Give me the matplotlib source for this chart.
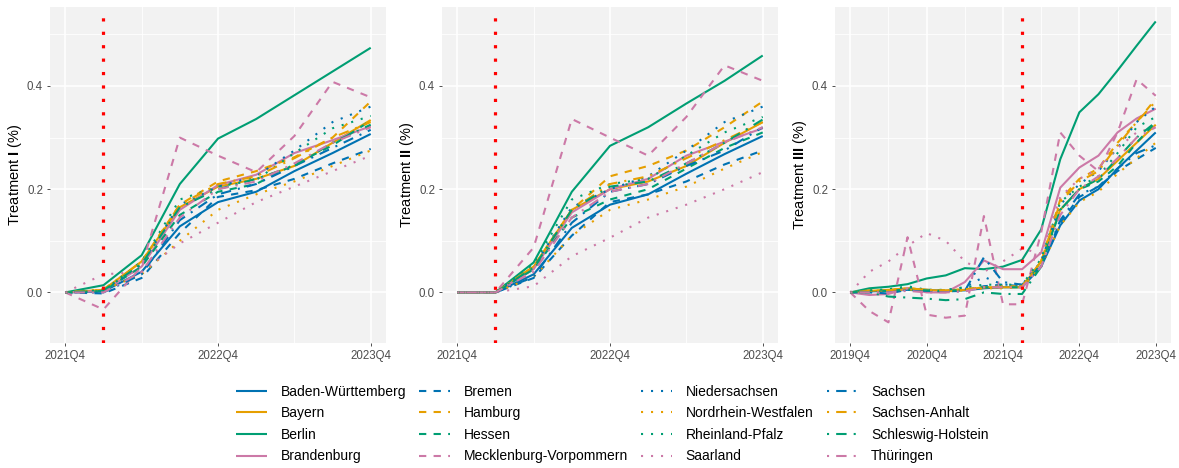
import matplotlib
matplotlib.use("Agg")
import matplotlib.pyplot as plt
from matplotlib.lines import Line2D
import numpy as np

plt.rcParams['font.family'] = ['Liberation Sans', 'DejaVu Sans']
plt.rcParams['mathtext.fontset'] = 'custom'
plt.rcParams['mathtext.rm'] = 'Liberation Sans'
plt.rcParams['mathtext.bf'] = 'Liberation Sans:bold'

states = ["Baden-Württemberg", "Bayern", "Berlin", "Brandenburg",
          "Bremen", "Hamburg", "Hessen", "Mecklenburg-Vorpommern",
          "Niedersachsen", "Nordrhein-Westfalen", "Rheinland-Pfalz", "Saarland",
          "Sachsen", "Sachsen-Anhalt", "Schleswig-Holstein", "Thüringen"]

quarters_short = ["2021Q4", "2022Q1", "2022Q2", "2022Q3", "2022Q4",
                  "2023Q1", "2023Q2", "2023Q3", "2023Q4"]
quarters_long = ["2019Q4", "2020Q1", "2020Q2", "2020Q3", "2020Q4",
                 "2021Q1", "2021Q2", "2021Q3", "2021Q4",
                 "2022Q1", "2022Q2", "2022Q3", "2022Q4",
                 "2023Q1", "2023Q2", "2023Q3", "2023Q4"]
treatment_start = "2022Q1"

treat1 = [
    [0, 0.002, 0.040, 0.128, 0.175, 0.195, 0.235, 0.270, 0.307],
    [0, 0.005, 0.060, 0.165, 0.205, 0.220, 0.245, 0.290, 0.334],
    [0, 0.014, 0.072, 0.210, 0.298, 0.336, 0.382, 0.428, 0.474],
    [0, 0.003, 0.050, 0.160, 0.208, 0.228, 0.270, 0.295, 0.322],
    [0, -0.002, 0.028, 0.115, 0.185, 0.198, 0.220, 0.250, 0.278],
    [0, 0.004, 0.060, 0.170, 0.215, 0.235, 0.262, 0.300, 0.370],
    [0, 0.003, 0.050, 0.150, 0.195, 0.210, 0.248, 0.285, 0.333],
    [0, -0.033, 0.050, 0.300, 0.265, 0.233, 0.303, 0.408, 0.378],
    [0, 0.002, 0.055, 0.170, 0.205, 0.225, 0.275, 0.330, 0.360],
    [0, 0.005, 0.035, 0.100, 0.160, 0.190, 0.215, 0.245, 0.275],
    [0, 0.003, 0.060, 0.180, 0.205, 0.218, 0.270, 0.318, 0.342],
    [0, 0.035, 0.040, 0.095, 0.135, 0.175, 0.205, 0.235, 0.265],
    [0, 0.000, 0.035, 0.140, 0.190, 0.210, 0.245, 0.280, 0.315],
    [0, 0.006, 0.058, 0.170, 0.210, 0.225, 0.260, 0.300, 0.330],
    [0, 0.004, 0.055, 0.165, 0.200, 0.220, 0.245, 0.290, 0.325],
    [0, 0.000, 0.040, 0.145, 0.200, 0.215, 0.250, 0.290, 0.320],
]

treat2 = [
    [0, 0, 0.035, 0.125, 0.170, 0.190, 0.230, 0.268, 0.303],
    [0, 0, 0.050, 0.160, 0.200, 0.215, 0.245, 0.290, 0.330],
    [0, 0, 0.058, 0.195, 0.284, 0.320, 0.366, 0.410, 0.459],
    [0, 0, 0.045, 0.155, 0.200, 0.220, 0.265, 0.292, 0.318],
    [0, 0, 0.028, 0.110, 0.175, 0.190, 0.215, 0.248, 0.275],
    [0, 0, 0.050, 0.160, 0.225, 0.245, 0.275, 0.320, 0.370],
    [0, 0, 0.045, 0.145, 0.180, 0.200, 0.240, 0.280, 0.310],
    [0, 0, 0.087, 0.336, 0.300, 0.265, 0.340, 0.440, 0.410],
    [0, 0, 0.050, 0.165, 0.200, 0.225, 0.275, 0.330, 0.360],
    [0, 0, 0.030, 0.110, 0.160, 0.180, 0.205, 0.240, 0.272],
    [0, 0, 0.055, 0.180, 0.210, 0.220, 0.265, 0.310, 0.340],
    [0, 0, 0.012, 0.070, 0.106, 0.145, 0.170, 0.200, 0.233],
    [0, 0, 0.030, 0.135, 0.195, 0.210, 0.245, 0.275, 0.320],
    [0, 0, 0.050, 0.160, 0.210, 0.225, 0.260, 0.295, 0.330],
    [0, 0, 0.048, 0.160, 0.205, 0.215, 0.250, 0.290, 0.335],
    [0, 0, 0.040, 0.145, 0.195, 0.210, 0.250, 0.290, 0.320],
]

treat3 = [
    [0, 0.002, 0.003, 0.005, 0.005, 0.003, 0.004, 0.008, 0.010, 0.010, 0.050, 0.130, 0.178, 0.200, 0.240, 0.275, 0.310],
    [0, 0.003, 0.005, 0.008, 0.005, 0.003, 0.005, 0.010, 0.010, 0.010, 0.060, 0.160, 0.200, 0.220, 0.255, 0.290, 0.325],
    [0, 0.008, 0.011, 0.016, 0.027, 0.033, 0.047, 0.045, 0.050, 0.063, 0.122, 0.258, 0.349, 0.384, 0.430, 0.478, 0.525],
    [0, -0.005, -0.003, 0.008, 0.000, 0.000, 0.020, 0.062, 0.045, 0.045, 0.077, 0.203, 0.242, 0.265, 0.310, 0.337, 0.356],
    [0, 0.000, -0.002, 0.005, 0.003, 0.002, 0.003, 0.012, 0.015, 0.012, 0.055, 0.135, 0.185, 0.205, 0.235, 0.258, 0.280],
    [0, 0.004, 0.004, 0.008, 0.005, 0.004, 0.006, 0.010, 0.012, 0.012, 0.060, 0.180, 0.220, 0.240, 0.290, 0.330, 0.375],
    [0, 0.003, 0.003, 0.006, 0.004, 0.003, 0.005, 0.010, 0.010, 0.010, 0.055, 0.160, 0.200, 0.215, 0.245, 0.290, 0.330],
    [0, -0.036, -0.058, 0.107, -0.043, -0.049, -0.045, 0.148, -0.023, -0.023, 0.116, 0.310, 0.265, 0.235, 0.310, 0.413, 0.381],
    [0, 0.002, 0.004, 0.010, 0.005, 0.004, 0.010, 0.030, 0.015, 0.015, 0.060, 0.170, 0.210, 0.235, 0.280, 0.330, 0.360],
    [0, 0.003, 0.004, 0.006, 0.003, 0.002, 0.004, 0.008, 0.008, 0.010, 0.050, 0.130, 0.175, 0.195, 0.230, 0.260, 0.290],
    [0, 0.004, 0.006, 0.012, 0.005, 0.005, 0.010, 0.015, 0.015, 0.015, 0.065, 0.175, 0.205, 0.225, 0.270, 0.320, 0.340],
    [0, 0.040, 0.060, 0.090, 0.115, 0.100, 0.060, 0.040, 0.060, 0.085, 0.075, 0.185, 0.220, 0.240, 0.280, 0.310, 0.320],
    [0, 0.002, 0.002, 0.005, 0.003, 0.002, 0.003, 0.068, 0.020, 0.015, 0.050, 0.140, 0.190, 0.205, 0.240, 0.270, 0.285],
    [0, 0.003, 0.004, 0.008, 0.005, 0.004, 0.006, 0.010, 0.010, 0.012, 0.060, 0.175, 0.215, 0.235, 0.285, 0.330, 0.370],
    [0, 0.000, -0.008, -0.010, -0.012, -0.015, -0.013, 0.000, -0.003, -0.003, 0.050, 0.160, 0.200, 0.220, 0.260, 0.300, 0.330],
    [0, 0.000, 0.000, 0.003, 0.000, 0.000, 0.002, 0.010, 0.010, 0.010, 0.050, 0.150, 0.200, 0.225, 0.260, 0.300, 0.320],
]

palette = ["#0072B2", "#E69F00", "#009E73", "#CC79A7"]
styles = [(0, ()), (0, (3.5, 3.5)), (0, (1, 3.8)), (0, (1, 3.4, 5, 3.4))]

panels = [
    (treat1, quarters_short, "Treatment $\\mathbf{I}$ (%)", [0, 4, 8], [2, 6]),
    (treat2, quarters_short, "Treatment $\\mathbf{II}$ (%)", [0, 4, 8], [2, 6]),
    (treat3, quarters_long, "Treatment $\\mathbf{III}$ (%)", [0, 4, 8, 12, 16], [2, 6, 10, 14]),
]

W, H = 1179, 468
fig = plt.figure(figsize=(W / 100, H / 100), dpi=100)
fig.patch.set_facecolor("white")

lefts = [50, 442, 835]
width_px = 336
top_px, bot_px = 7, 343

ylo, yhi = -0.098, 0.553

for k, (vals, qs, ylab, majx, minx) in enumerate(panels):
    ax = fig.add_axes([lefts[k] / W, 1 - bot_px / H, width_px / W, (bot_px - top_px) / H])
    ax.set_facecolor("#F2F2F2")
    for s in ax.spines.values():
        s.set_visible(False)
    x = np.arange(len(qs))
    n = len(qs) - 1
    ax.set_xlim(-0.05 * n, n + 0.05 * n)
    ax.set_ylim(ylo, yhi)
    for v in minx:
        ax.axvline(v, color="white", lw=0.6, zorder=0.5)
    for v in majx:
        ax.axvline(v, color="white", lw=1.2, zorder=0.6)
    for v in [0.1, 0.3, 0.5]:
        ax.axhline(v, color="white", lw=0.6, zorder=0.5)
    for v in [0.0, 0.2, 0.4]:
        ax.axhline(v, color="white", lw=1.2, zorder=0.6)
    ax.set_xticks(majx)
    ax.set_xticklabels([qs[i] for i in majx])
    ax.set_yticks([0.0, 0.2, 0.4])
    ax.set_yticklabels(["0.0", "0.2", "0.4"])
    ax.tick_params(axis="both", labelsize=8.3, colors="#4D4D4D", length=2.5,
                   width=0.6, pad=2.5)
    ax.tick_params(axis="both", color="#333333")
    ax.set_ylabel(ylab, fontsize=10.5, color="black", labelpad=2)
    for i, st in enumerate(states):
        ax.plot(x, vals[i], color=palette[i % 4], linestyle=styles[i // 4],
                lw=1.5, dash_capstyle="butt", solid_capstyle="butt", zorder=2)
    ax.axvline(qs.index(treatment_start), ymax=0.975, color="#FF0000", lw=2.3,
               linestyle=(0, (1, 3.2)), dash_capstyle="butt", zorder=3)

handles = [Line2D([0], [0], color=palette[i % 4], linestyle=styles[i // 4], lw=1.5,
                  dash_capstyle="butt") for i in range(len(states))]
fig.legend(handles, states, ncol=4, loc="center", bbox_to_anchor=(0.5195, 0.094),
           frameon=False, fontsize=10, handlelength=2.2, handletextpad=1.0,
           columnspacing=0.95, labelspacing=0.55)

fig.savefig("out.png", dpi=100)
